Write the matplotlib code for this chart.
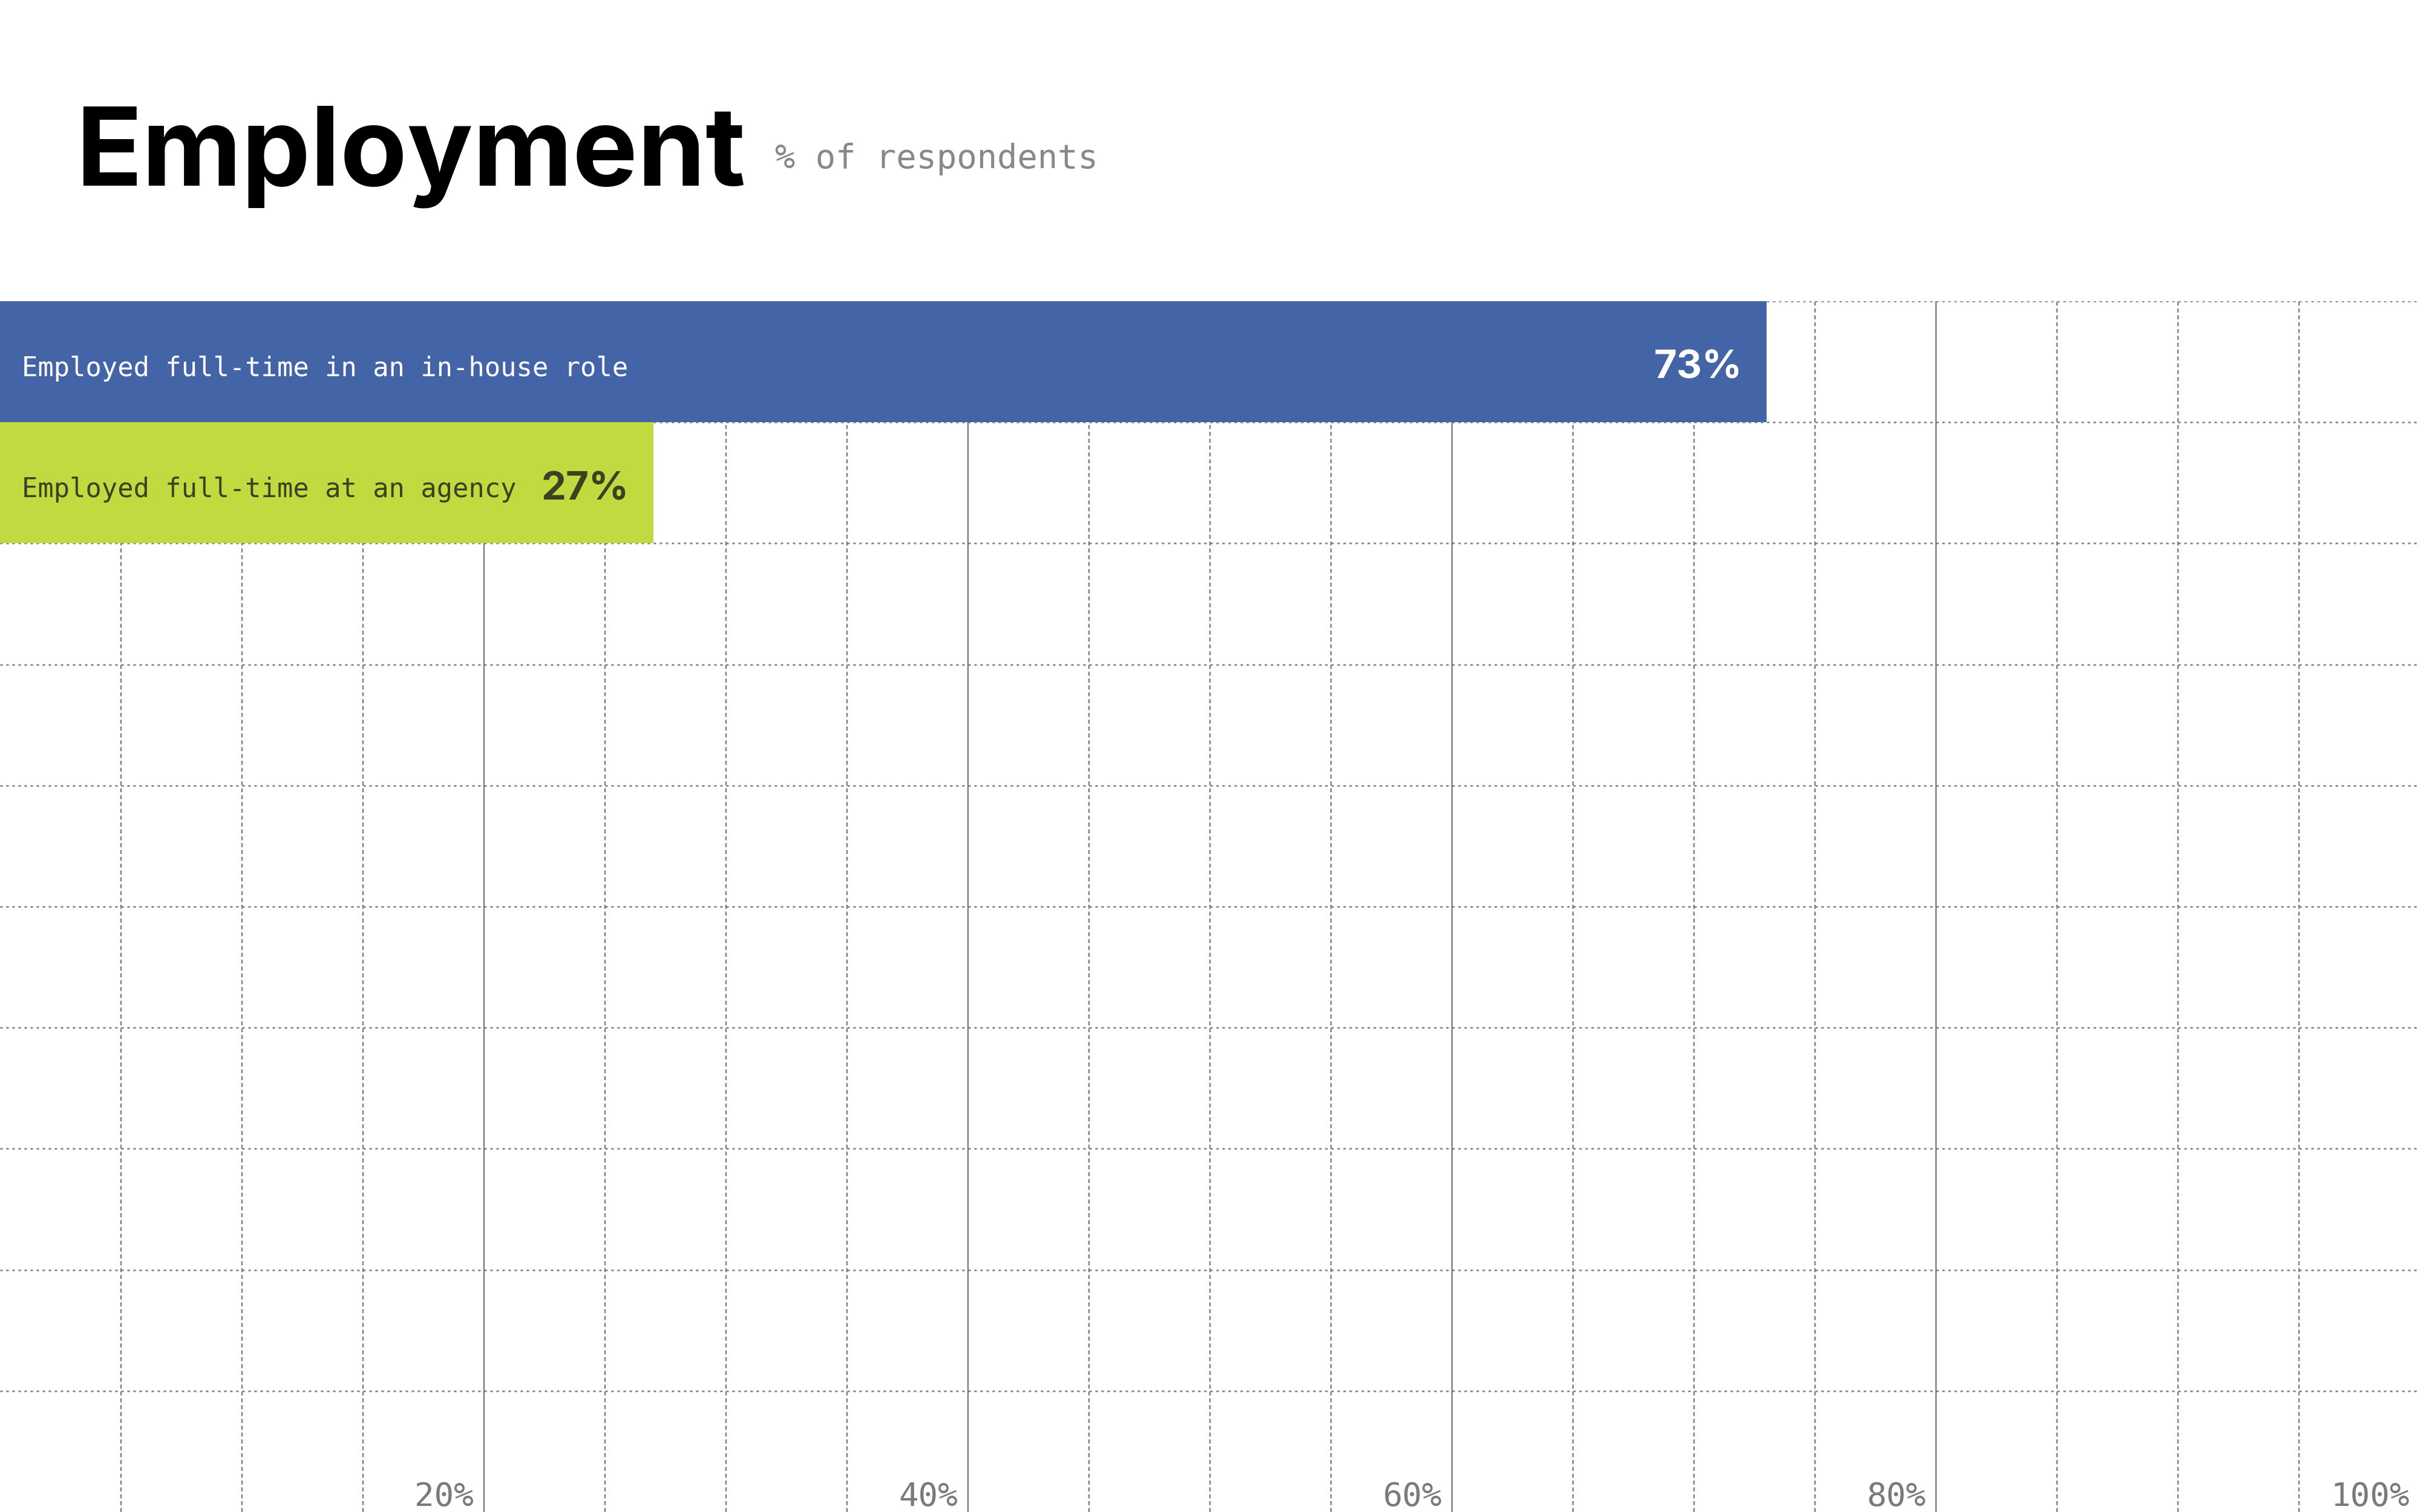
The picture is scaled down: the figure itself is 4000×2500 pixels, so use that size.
import matplotlib.pyplot as plt
import numpy as np

# Data
categories = ['Employed full-time in an in-house role', 'Employed full-time at an agency']
values = [73, 27]
bar_colors = ['#4464a8', '#c2da3f']
text_colors = ['#ffffff', '#3d4122']
x_ticks = [20, 40, 60, 80, 100]
n_rows = 10

GRID = '#7a7a7a'

fig = plt.figure(figsize=(40, 25), dpi=100)
ax = fig.add_axes([0, 0, 1, 2002 / 2500])

# bars fill the full row height
y_pos = np.arange(len(categories)) + 0.5
ax.barh(y_pos, values, height=1.0, color=bar_colors, zorder=3)

ax.set_xlim(0, 100)
ax.set_ylim(n_rows, 0)

# grid: solid every 20%, dashed every 5%, dotted row lines
for x in range(5, 100, 5):
    if x % 20 == 0:
        ax.axvline(x, color=GRID, lw=1.7, zorder=1)
    else:
        ax.axvline(x, color=GRID, lw=1.7, linestyle=(0, (2.8, 2.0)), zorder=1)
for y in range(n_rows):
    ax.axhline(y, color=GRID, lw=1.8, linestyle=(0, (1.6, 2.4)), zorder=1)

for s in ax.spines.values():
    s.set_visible(False)
ax.set_xticks([])
ax.set_yticks([])

# labels inside the bars
for i, (cat, val) in enumerate(zip(categories, values)):
    ax.annotate(cat, (0, y_pos[i]), xytext=(26, -17), textcoords='offset points',
                ha='left', va='baseline', fontsize=31.5, family='DejaVu Sans Mono',
                color=text_colors[i], zorder=4)
    ax.annotate(f'{val}%', (val, y_pos[i]), xytext=(-29, -20), textcoords='offset points',
                ha='right', va='baseline', fontsize=47, family='Inter', fontweight='bold',
                color=text_colors[i], zorder=4)

# percentage scale along the bottom
for t in x_ticks:
    ax.annotate(f'{t}%', (t, n_rows), xytext=(-12, 7), textcoords='offset points',
                ha='right', va='baseline', fontsize=39, family='DejaVu Sans Mono',
                color=GRID, zorder=4)

# title
title = fig.text(125 / 4000, 1 - 306 / 2500, 'Employment', fontsize=130, family='Inter',
                 fontweight='bold', color='black', ha='left', va='baseline')
fig.canvas.draw()
bb = title.get_window_extent()
fig.text((bb.x1 + 49) / 4000, 1 - 278 / 2500, '% of respondents', fontsize=40,
         family='DejaVu Sans Mono', color='#888888', ha='left', va='baseline')

fig.savefig('out.png', dpi=100)
